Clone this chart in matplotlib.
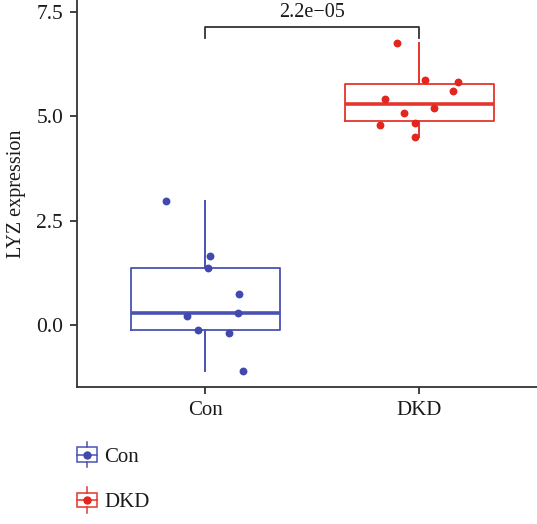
import matplotlib
matplotlib.use("Agg")
import matplotlib.pyplot as plt
from matplotlib.legend_handler import HandlerBase
from matplotlib.patches import Rectangle
from matplotlib.lines import Line2D
import numpy as np

# ---- data ----
groups = ["Con", "DKD"]
con_values = [2.97, 1.65, 1.37, 0.74, 0.29, 0.22, -0.12, -0.19, -1.10]
con_jitter = [-0.182, 0.023, 0.014, 0.159, 0.154, -0.084, -0.033, 0.112, 0.178]
dkd_values = [6.75, 5.87, 5.83, 5.61, 5.41, 5.19, 5.08, 4.83, 4.78, 4.50]
dkd_jitter = [-0.103, 0.028, 0.180, 0.156, -0.161, 0.068, -0.072, -0.021, -0.186, -0.021]
p_label = "2.2e\u221205"
y_ticks = [0.0, 2.5, 5.0, 7.5]
y_label = "LYZ expression"

colors = {"Con": "#4149AE", "DKD": "#E2261E"}
box_colors = {"Con": "#4A52B3", "DKD": "#E4362C"}

plt.rcParams['font.family'] = ['Liberation Serif', 'DejaVu Serif']

W, H = 537, 524
fig = plt.figure(figsize=(W / 100, H / 100), dpi=100)
ax_left_px, ax_bottom_px, ax_top_px = 77, 387, 0
ax_w_px = 2.2 * 214
ax = fig.add_axes([ax_left_px / W, (H - ax_bottom_px) / H, ax_w_px / W, (ax_bottom_px - ax_top_px) / H])

data = [con_values, dkd_values]
jit = [con_jitter, dkd_jitter]
for i, g in enumerate(groups):
    pos = i + 1
    c = box_colors[g]
    ax.boxplot([data[i]], positions=[pos], widths=0.7, showfliers=False,
               patch_artist=False, manage_ticks=False,
               boxprops=dict(color=c, linewidth=1.3),
               medianprops=dict(color=c, linewidth=2.6),
               whiskerprops=dict(color=c, linewidth=1.4),
               capprops=dict(linewidth=0), zorder=2)
    ax.scatter(np.array(jit[i]) + pos, data[i], s=32, color=colors[g], zorder=3, linewidths=0)

# significance bracket
ytop = 7.14
ylow = 6.88
ax.plot([1, 1, 2, 2], [ylow, ytop, ytop, ylow], color="#333333", lw=1.3, clip_on=False)
ax.text(1.5, ytop + 0.12, p_label, ha="center", va="bottom", fontsize=14.5, color="#1a1a1a")

ax.set_xlim(0.4, 2.6)
ax.set_ylim(-1.476, 7.78)
ax.set_xticks([1, 2])
ax.set_xticklabels(groups, fontsize=15, color="#1a1a1a")
ax.set_yticks(y_ticks)
ax.set_yticklabels([f"{v:.1f}" for v in y_ticks], fontsize=15.5, color="#1a1a1a")
ax.set_ylabel(y_label, fontsize=14.5, color="#1a1a1a", labelpad=7)
for s in ["top", "right"]:
    ax.spines[s].set_visible(False)
for s in ["left", "bottom"]:
    ax.spines[s].set_color("#333333")
    ax.spines[s].set_linewidth(1.3)
ax.tick_params(axis="both", length=5, width=1.3, color="#333333", pad=5)


class BoxHandler(HandlerBase):
    def __init__(self, line_c, pt_c):
        super().__init__()
        self.lc = line_c
        self.pc = pt_c

    def create_artists(self, legend, orig_handle, xdescent, ydescent, width, height, fontsize, trans):
        cx = width / 2 - xdescent
        cy = height / 2 - ydescent
        bw, bh = width, height
        rect = Rectangle((cx - bw / 2, cy - bh / 2), bw, bh, fill=False, ec=self.lc, lw=1.1, transform=trans)
        med = Line2D([cx - bw / 2, cx + bw / 2], [cy, cy], color=self.lc, lw=1.1, transform=trans)
        w1 = Line2D([cx, cx], [cy + bh / 2, cy + bh / 2 + height * 0.4], color=self.lc, lw=1.1, transform=trans)
        w2 = Line2D([cx, cx], [cy - bh / 2, cy - bh / 2 - height * 0.4], color=self.lc, lw=1.1, transform=trans)
        dot = Line2D([cx], [cy], marker="o", ms=5, color=self.pc, lw=0, transform=trans)
        return [rect, med, w1, w2, dot]


handles = [Line2D([], []), Line2D([], [])]
leg = fig.legend(handles, groups, loc="upper left", bbox_to_anchor=(67 / W, 1 - 437 / H),
                 frameon=False, fontsize=15, handlelength=0.95, handleheight=0.68,
                 handletextpad=0.35, labelspacing=1.25, borderpad=0,
                 handler_map={handles[0]: BoxHandler(box_colors["Con"], colors["Con"]),
                              handles[1]: BoxHandler(box_colors["DKD"], colors["DKD"])})
for t in leg.get_texts():
    t.set_color("#1a1a1a")

fig.savefig("out.png", dpi=100)
